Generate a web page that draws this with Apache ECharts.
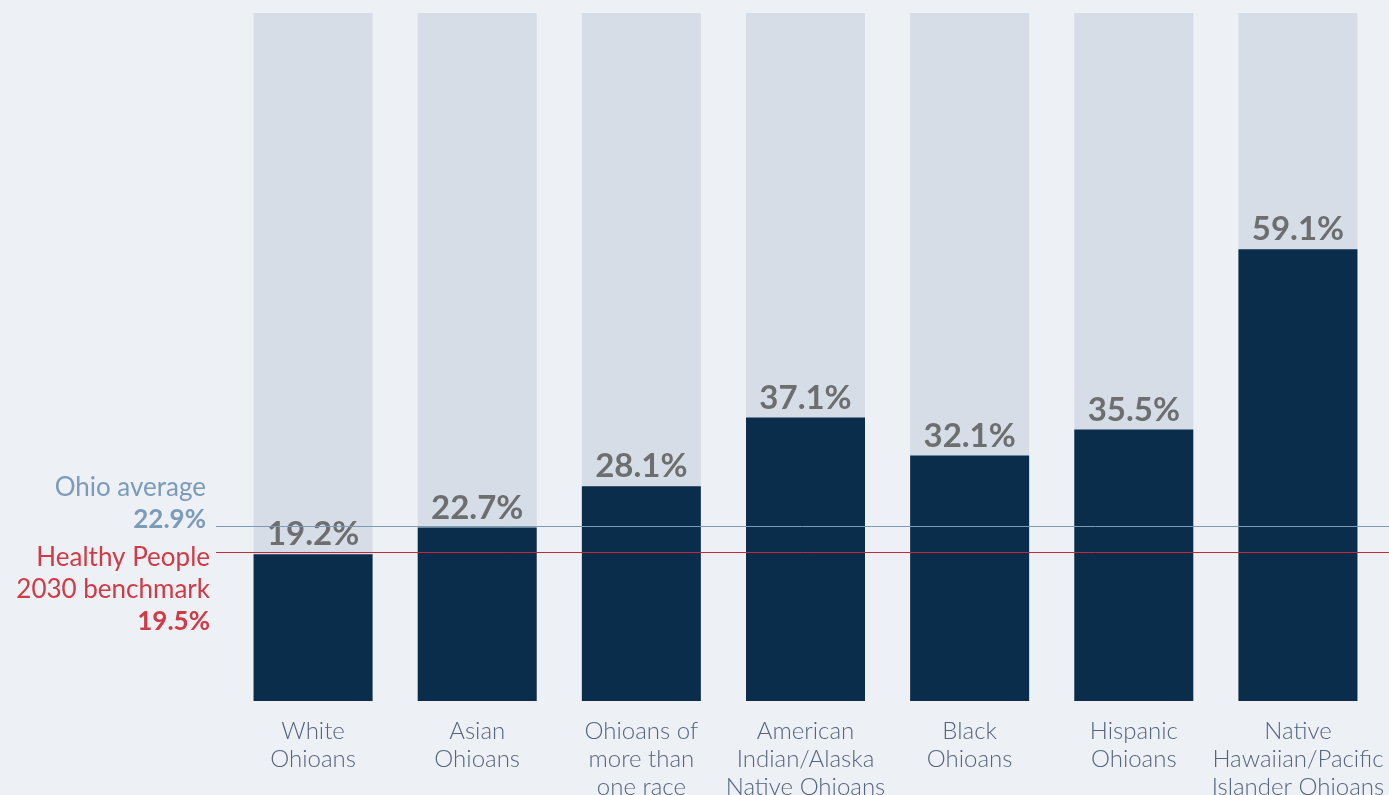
<!DOCTYPE html>
<html>
<head>
<meta charset="utf-8">
<script src="https://cdn.jsdelivr.net/npm/echarts@6/dist/echarts.min.js"></script>
<style>
  html, body { margin: 0; padding: 0; background: #edf0f4; }
  #chart { width: 1389px; height: 795px; }
</style>
</head>
<body>
<div id="chart"></div>
<script>
// Share of Ohioans by race/ethnicity (percent)
const categories = [
  'White\nOhioans',
  'Asian\nOhioans',
  'Ohioans of\nmore than\none race',
  'American\nIndian/Alaska\nNative Ohioans',
  'Black\nOhioans',
  'Hispanic\nOhioans',
  'Native\nHawaiian/Pacific\nIslander Ohioans'
];
const values = [19.2, 22.7, 28.1, 37.1, 32.1, 35.5, 59.1];

// Reference levels
const ohioAverage = [22.9];
const benchmark = [19.5];

const FONT = 'Lato, "Open Sans", sans-serif';
const BLUE = '#7b9bb9';
const RED = '#cf3b47';

const chart = echarts.init(document.getElementById('chart'), null, { renderer: 'canvas' });

chart.setOption({
  backgroundColor: '#edf0f4',
  animation: false,
  grid: {
    left: 231, right: 9, top: 13, bottom: 94,
    containLabel: false,
    outerBoundsMode: 'none'
  },
  xAxis: {
    type: 'category',
    data: categories,
    axisLine: { show: false },
    axisTick: { show: false },
    axisLabel: {
      interval: 0,
      margin: 16,
      fontFamily: FONT,
      fontSize: 24,
      fontWeight: 300,
      lineHeight: 28,
      color: '#56647f'
    }
  },
  yAxis: {
    type: 'value',
    min: 0,
    max: 90,
    show: false,
    splitLine: { show: false }
  },
  series: [{
    type: 'bar',
    data: values,
    barWidth: 119,
    itemStyle: { color: '#0a2d4b' },
    showBackground: true,
    backgroundStyle: { color: '#d6dde7' },
    label: {
      show: true,
      position: 'top',
      distance: 3,
      fontFamily: FONT,
      fontSize: 33,
      fontWeight: 'bold',
      color: '#6d6e70',
      formatter: p => p.value.toFixed(1) + '%'
    },
    markLine: {
      silent: true,
      symbol: 'none',
      animation: false,
      data: [
        [
          {
            x: 216, yAxis: ohioAverage[0],
            lineStyle: { color: BLUE, width: 1, type: 'solid' },
            label: {
              show: true,
              position: 'start',
              distance: 10,
              padding: [0, 0, 44, 0],
              formatter: '{a|Ohio average}\n{b|' + ohioAverage[0].toFixed(1) + '%}',
              rich: {
                a: { fontFamily: FONT, fontSize: 26, lineHeight: 32, color: BLUE, align: 'right' },
                b: { fontFamily: FONT, fontSize: 26, lineHeight: 32, color: BLUE, fontWeight: 'bold', align: 'right' }
              }
            }
          },
          { x: 1389, yAxis: ohioAverage[0] }
        ],
        [
          {
            x: 216, yAxis: benchmark[0],
            lineStyle: { color: '#c4283a', width: 1, type: 'solid' },
            label: {
              show: true,
              position: 'start',
              distance: 6,
              padding: [76, 0, 0, 0],
              formatter: '{a|Healthy People}\n{a|2030 benchmark}\n{b|' + benchmark[0].toFixed(1) + '%}',
              rich: {
                a: { fontFamily: FONT, fontSize: 26, lineHeight: 32, color: RED, align: 'right' },
                b: { fontFamily: FONT, fontSize: 26, lineHeight: 32, color: RED, fontWeight: 'bold', align: 'right' }
              }
            }
          },
          { x: 1389, yAxis: benchmark[0] }
        ]
      ]
    }
  }]
});
</script>
</body>
</html>
